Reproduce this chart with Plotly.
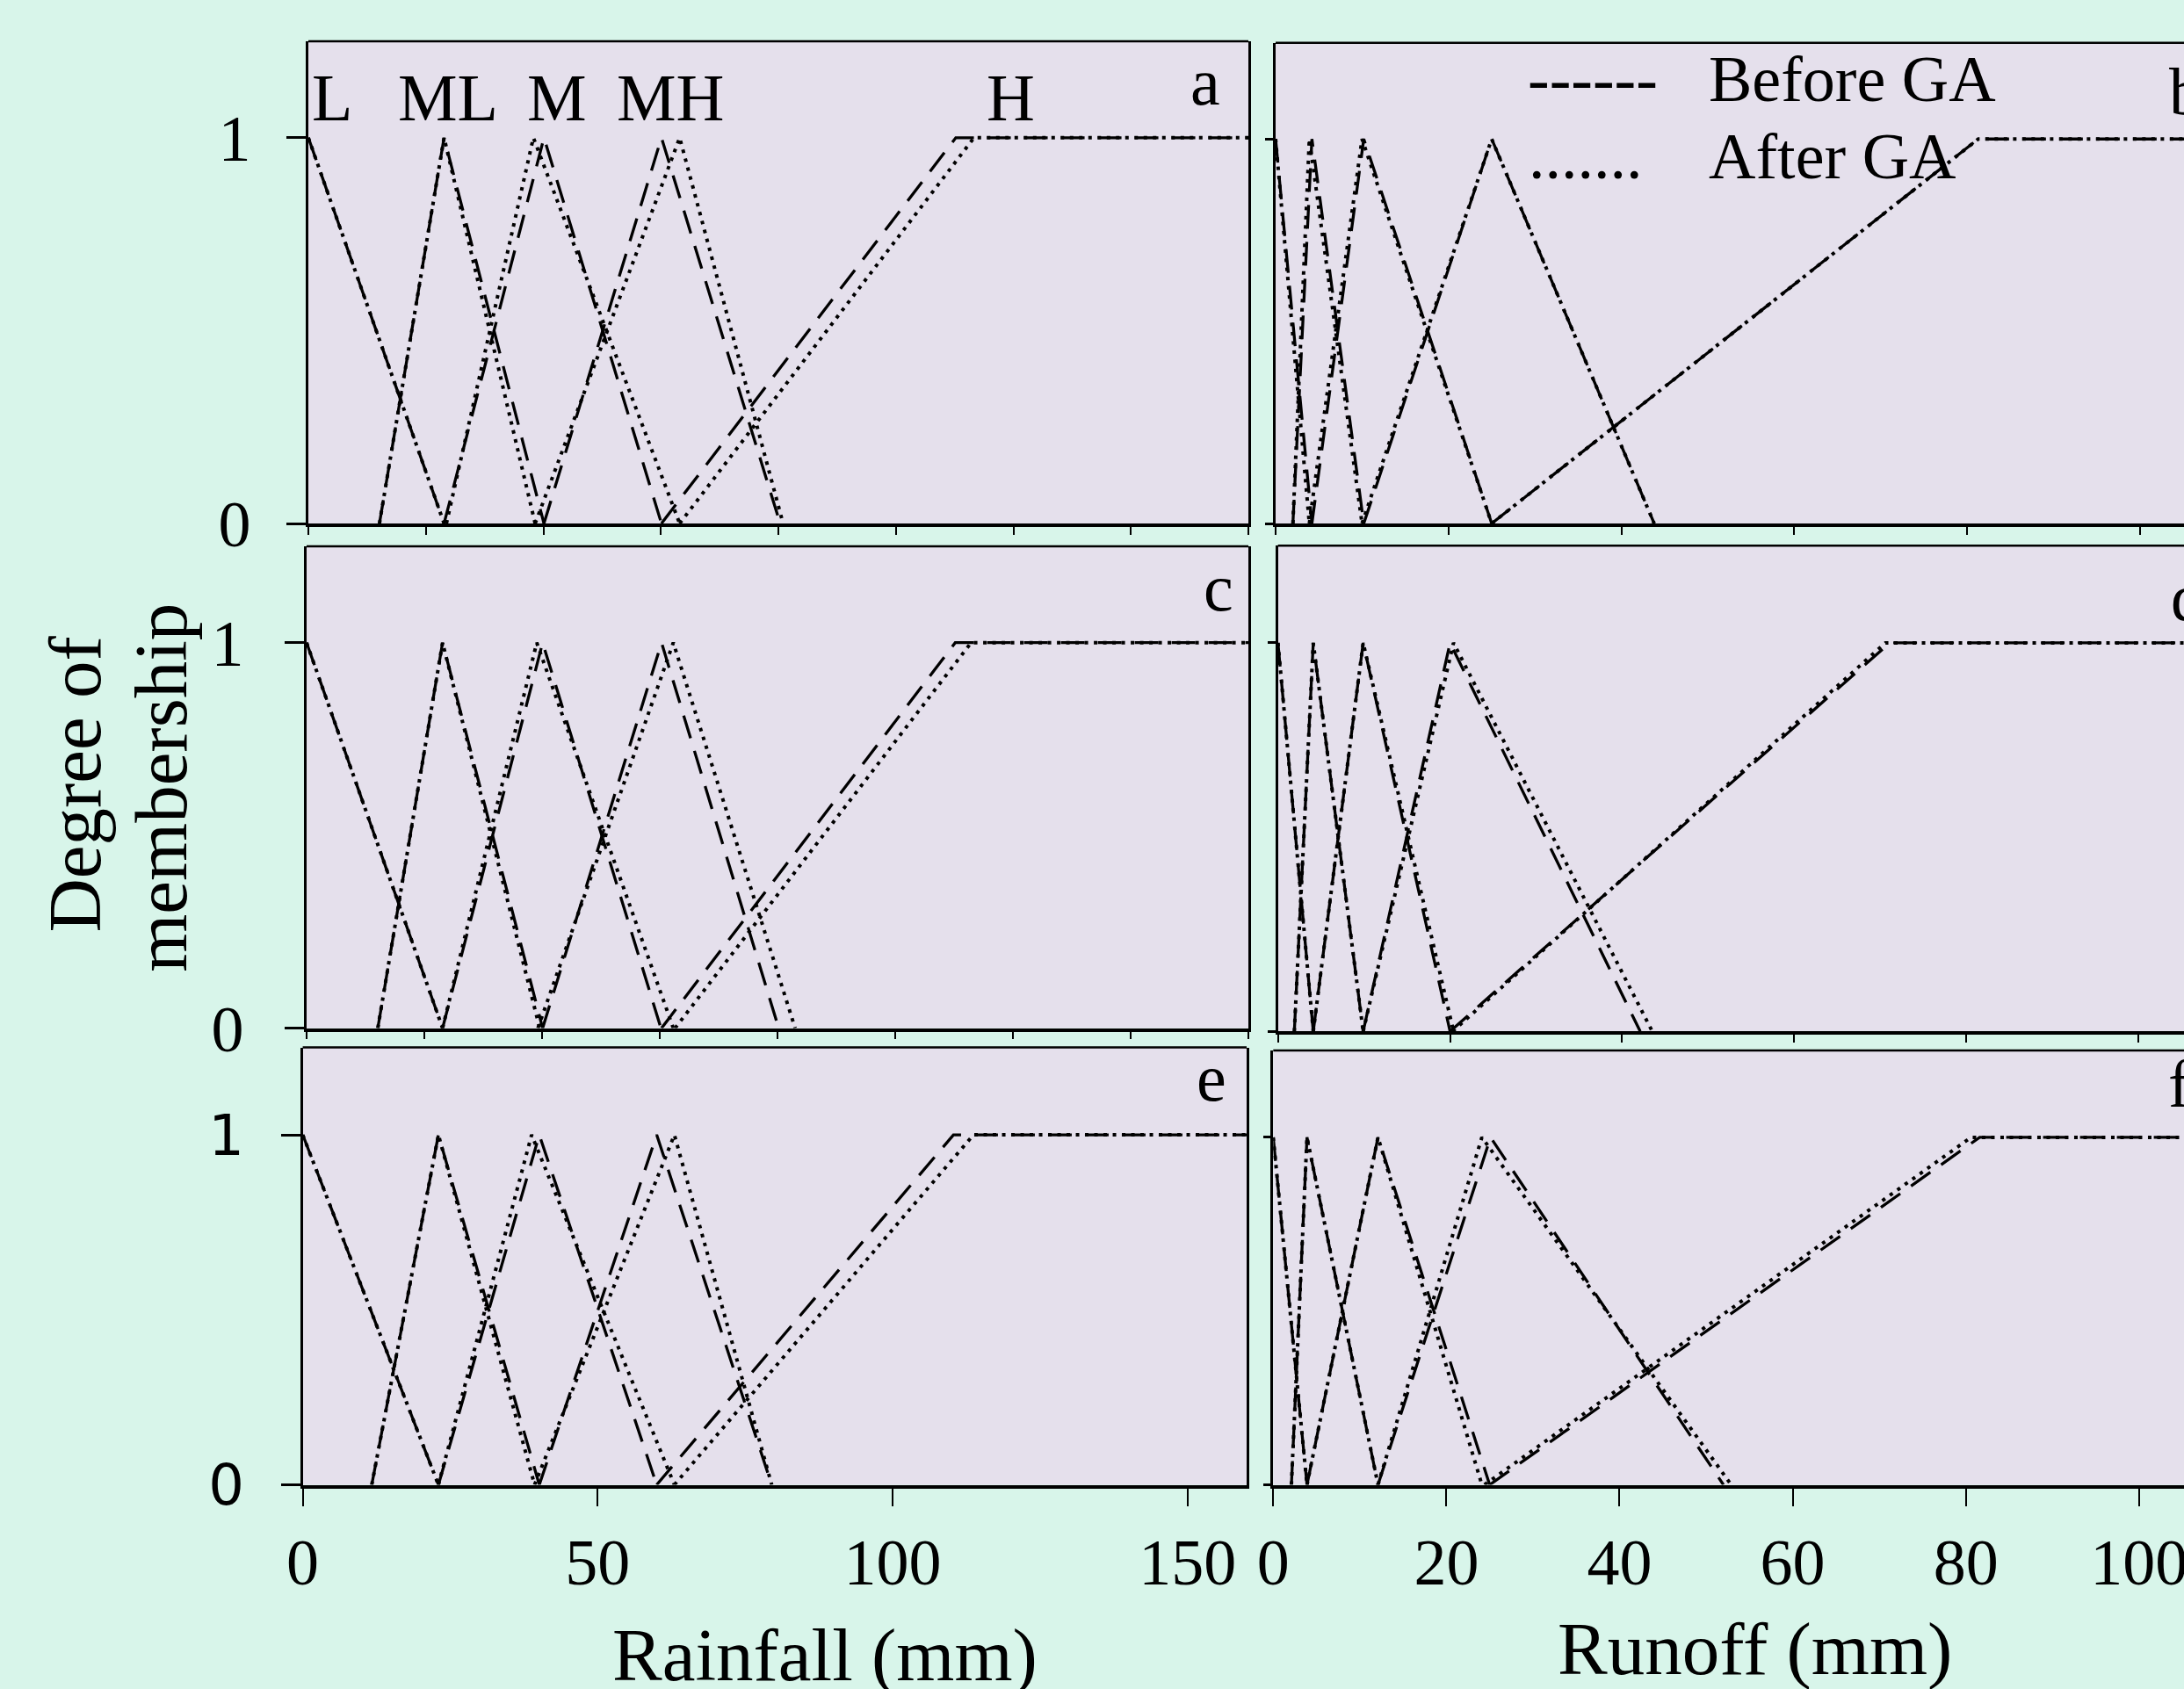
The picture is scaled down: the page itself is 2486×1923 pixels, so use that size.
import plotly.graph_objects as go

W, H = 2486, 1923

# ---------------- data: membership-function break points ----------------
# order: L [1 at x0, 0 at x1], ML/M/MH triangles [foot, peak, foot], H [foot, shoulder]
rain_terms = ["L", "ML", "M", "MH", "H"]

rain_a_before = [[0, 23.1], [12.1, 23.1, 40.1], [23.1, 40.1, 60.1], [40.1, 60.1, 80.3], [60.1, 110.2]]
rain_a_after = [[0, 23.1], [12.1, 23.1, 38.6], [23.5, 38.3, 63.2], [38.6, 63.2, 80.8], [63.2, 113.3]]

rain_c_before = [[0, 23.1], [12.1, 23.1, 40.1], [23.1, 40.1, 60.2], [40.1, 60.3, 80.2], [60.3, 110.2]]
rain_c_after = [[0, 23.1], [12.1, 23.1, 39.6], [23.1, 39.1, 62.3], [39.3, 62.3, 83.0], [62.6, 112.9]]

rain_e_before = [[0, 23.0], [11.7, 23.0, 40.1], [23.0, 40.1, 60.0], [40.1, 60.0, 79.5], [60.0, 110.3]]
rain_e_after = [[0, 23.0], [11.7, 23.0, 39.3], [23.0, 38.8, 63.0], [39.3, 63.0, 79.5], [63.0, 113.7]]

runoff_b_before = [[0, 4.2], [2.0, 4.2, 10.2], [4.2, 10.2, 25.0], [10.2, 25.0, 43.8], [25.0, 81.3]]
runoff_b_after = [[0, 3.9], [2.0, 3.9, 10.0], [3.9, 10.0, 25.0], [10.0, 25.0, 43.8], [25.0, 81.3]]

runoff_d_before = [[0, 4.1], [1.9, 4.1, 9.9], [4.1, 9.9, 20.0], [9.9, 20.0, 42.1], [20.0, 71.1]]
runoff_d_after = [[0, 4.1], [1.9, 4.1, 9.9], [4.1, 9.9, 20.4], [9.9, 20.4, 43.5], [20.3, 70.6]]

runoff_f_before = [[0, 3.9], [2.1, 3.9, 12.1], [3.9, 12.1, 25.0], [12.1, 25.1, 52.0], [25.0, 81.6]]
runoff_f_after = [[0, 3.9], [2.1, 3.9, 12.1], [3.9, 12.1, 24.1], [12.1, 24.1, 52.9], [24.4, 80.6]]

rain_max = 160
runoff_max = 120

rain_ticks_top = [0, 20, 40, 60, 80, 100, 120, 140, 160]
rain_ticks_bottom = [0, 50, 100, 150]
runoff_ticks = [0, 20, 40, 60, 80, 100, 120]
y_ticks = [0, 1]
y_ticktext = ["0", "1"]

panel_letters = ["a", "b", "c", "d", "e", "f"]
legend_labels = ["Before GA", "After GA"]
legend_glyphs = ["------", "......."]


# ---------------- helpers ----------------
def mf_xy(params, xmax):
    L, ML, M, MH, Hh = params
    xs, ys = [L[0], L[1], None], [1, 0, None]
    for t in (ML, M, MH):
        xs += [t[0], t[1], t[2], None]
        ys += [0, 1, 0, None]
    xs += [Hh[0], Hh[1], xmax]
    ys += [0, 1, 1]
    return xs, ys


def fx(px):
    return px / W


def fy(py):
    return 1 - py / H


SERIF = "Liberation Serif"
SANS = "DejaVu Sans"

# panel geometry (pixels)
panels = [
    dict(before=rain_a_before, after=rain_a_after, xmax=rain_max, xd=(351, 1421), yd=(47, 596),
         xr=[0, 160], col=0, row=0),
    dict(before=runoff_b_before, after=runoff_b_after, xmax=runoff_max, xd=(1452, W), yd=(48.8, 596),
         xr=[0, 105.1], col=1, row=0),
    dict(before=rain_c_before, after=rain_c_after, xmax=rain_max, xd=(349, 1421), yd=(622, 1170.6),
         xr=[0, 160], col=0, row=1),
    dict(before=runoff_d_before, after=runoff_d_after, xmax=runoff_max, xd=(1454.7, W), yd=(621.3, 1174.3),
         xr=[0, 105.3], col=1, row=1),
    dict(before=rain_e_before, after=rain_e_after, xmax=rain_max, xd=(344.6, 1419), yd=(1192.5, 1690.5),
         xr=[0, 160], col=0, row=2),
    dict(before=runoff_f_before, after=runoff_f_after, xmax=runoff_max, xd=(1449.3, W), yd=(1196, 1690.5),
         xr=[0, 105.2], col=1, row=2),
]

fig = go.Figure()
shapes = []
layout_axes = {}

for i, p in enumerate(panels):
    n = "" if i == 0 else str(i + 1)
    xa, ya = "x" + n, "y" + n
    xb, yb = mf_xy(p["before"], p["xmax"])
    xf, yf = mf_xy(p["after"], p["xmax"])
    fig.add_trace(go.Scatter(x=xb, y=yb, mode="lines", name=legend_labels[0], xaxis=xa, yaxis=ya,
                             line=dict(color="black", width=3.3, dash="27px,15px"), showlegend=False,
                             hoverinfo="skip"))
    fig.add_trace(go.Scatter(x=xf, y=yf, mode="lines", name=legend_labels[1], xaxis=xa, yaxis=ya,
                             line=dict(color="black", width=4, dash="4px,6.5px"), showlegend=False,
                             hoverinfo="skip"))

    bottom = p["row"] == 2
    left = p["col"] == 0
    if left:
        xticks = rain_ticks_bottom if bottom else rain_ticks_top
    else:
        xticks = runoff_ticks
    xaxis = dict(domain=[fx(p["xd"][0]), min(1, fx(p["xd"][1]))], range=p["xr"], anchor=ya,
                 automargin=False,
                 showgrid=False, zeroline=False, showline=True, linecolor="black", linewidth=3.5,
                 ticks="outside", tickcolor="black", tickwidth=2,
                 ticklen=21 if bottom else 9, tickvals=xticks,
                 showticklabels=bottom, ticklabeloverflow="allow",
                 tickfont=dict(family=SERIF, size=74, color="black"),
                 ticklabelstandoff=0)
    if left:
        yfont = dict(family=SANS, size=64, color="black") if bottom else dict(family=SERIF, size=74, color="black")
        standoff = [26, 32, 29][p["row"]]
    else:
        yfont = dict(family=SERIF, size=74, color="black")
        standoff = 0
    yaxis = dict(domain=[fy(p["yd"][1]), fy(p["yd"][0])], range=[0, 1.25], anchor=xa,
                 automargin=False,
                 showgrid=False, zeroline=False, showline=True, linecolor="black", linewidth=2.5,
                 mirror=left, ticks="outside", tickcolor="black", tickwidth=2.5,
                 ticklen=22 if left else 9, tickvals=y_ticks, ticktext=y_ticktext,
                 showticklabels=left, tickfont=yfont, ticklabelstandoff=standoff)
    layout_axes["xaxis" + n] = xaxis
    layout_axes["yaxis" + n] = yaxis
    # top border of each panel
    shapes.append(dict(type="line", xref=xa + " domain", yref=ya + " domain", x0=0, x1=1, y0=1, y1=1,
                       line=dict(color="black", width=2.5), layer="above"))

annotations = []


def add_text(text, px, py_baseline, size=76, family=SERIF, xanchor="left", angle=0):
    # py_baseline: pixel y of the text baseline; convert to box centre
    if family == SERIF:
        shift = 0.3375 * size
    else:
        shift = 0.346 * size
    annotations.append(dict(text=text, x=fx(px), y=fy(py_baseline - shift), xref="paper", yref="paper",
                            xanchor=xanchor, yanchor="middle", showarrow=False, textangle=angle,
                            font=dict(family=family, size=size, color="black")))


# term labels in panel a
term_left_px = [353, 451, 598, 700, 1121]
for t, lx in zip(rain_terms, term_left_px):
    add_text(t, lx, 137)

# panel letters
add_text(panel_letters[0], 1372, 118.4, xanchor="center")
add_text(panel_letters[2], 1387, 695, xanchor="center")
add_text(panel_letters[4], 1378.6, 1252.7, xanchor="center")
add_text(panel_letters[1], 2467, 129.8)
add_text(panel_letters[3], 2469, 706)
add_text(panel_letters[5], 2466, 1259.5)

# legend (text-style, as in the original)
add_text(legend_glyphs[0], 1737, 114.7, size=74)
add_text(legend_labels[0], 1943, 114.7, size=74)
add_text(legend_glyphs[1], 1738, 203, size=74)
add_text(legend_labels[1], 1943, 203, size=74)

# axis titles
add_text("Rainfall (mm)", 939, 1913, size=85, xanchor="center")
add_text("Runoff (mm)", 1997, 1906, size=85, xanchor="center")
# y title (two rotated lines)
annotations.append(dict(text="Degree of", x=fx(113.3 - 0.3375 * 85), y=fy(893), xref="paper", yref="paper",
                        xanchor="center", yanchor="middle", showarrow=False, textangle=-90,
                        font=dict(family=SERIF, size=85, color="black")))
annotations.append(dict(text="membership", x=fx(211.5 - 0.3375 * 85), y=fy(897), xref="paper", yref="paper",
                        xanchor="center", yanchor="middle", showarrow=False, textangle=-90,
                        font=dict(family=SERIF, size=85, color="black")))

fig.update_layout(
    template="none",
    width=W, height=H, autosize=False,
    margin=dict(l=0, r=0, t=0, b=0, pad=0),
    paper_bgcolor="#D8F5EA", plot_bgcolor="#E5E0EC",
    showlegend=False,
    shapes=shapes, annotations=annotations,
    **layout_axes,
)

fig.write_html("out.html", config={"displayModeBar": False},
               post_script="document.body.style.margin='0';document.body.style.overflow='hidden';")
